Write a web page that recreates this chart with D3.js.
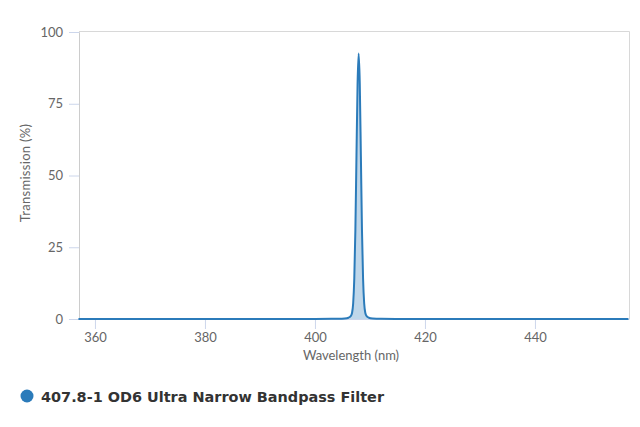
<!DOCTYPE html>
<html>
<head>
<meta charset="utf-8">
<script src="https://cdn.jsdelivr.net/npm/d3@7"></script>
<style>
  body { margin: 0; background: #fff; }
  svg { display: block; }
</style>
</head>
<body>
<script>
// transmission curve
const wavelengths = [357, 380, 395, 400, 403, 404, 405.4, 406.1, 406.5, 406.75, 406.95, 407.15, 407.35, 407.55, 407.75, 407.95,
  408.15, 408.35, 408.55, 408.75, 408.95, 409.15, 409.4, 409.8, 410.5, 412, 415, 420, 440, 457];
const transmission = [0, 0, 0.01, 0.02, 0.05, 0.08, 0.2, 0.45, 1.0, 2.2, 5.5, 14, 31, 57, 82, 92.5,
  82, 57, 31, 14, 5.5, 2.2, 1.0, 0.45, 0.2, 0.08, 0.04, 0.02, 0, 0];
const xTicks = [360, 380, 400, 420, 440];
const yTicks = [0, 25, 50, 75, 100];
const seriesName = "407.8-1 OD6 Ultra Narrow Bandpass Filter";

const data = wavelengths.map((w, i) => ({ x: w, y: transmission[i] }));

const w = 640, h = 427;
const plotL = 79, plotR = 629, plotT = 32, plotB = 319;
const labelFont = "Lato, sans-serif";

const svg = d3.select("body").append("svg").attr("width", w).attr("height", h);

const xScale = d3.scaleLinear().domain([357.1, 457.1]).range([plotL, plotR]);
const yScale = d3.scaleLinear().domain([0, 100]).range([plotB, plotT]);

// plot border (top/right)
svg.append("path")
  .attr("d", `M${plotL},${plotT - 0.5}H${plotR + 0.5}V${plotB}`)
  .attr("fill", "none")
  .attr("stroke", "#d8d8d8")
  .attr("stroke-width", 1);

// area + line
const area = d3.area()
  .x(d => xScale(d.x))
  .y0(yScale(0))
  .y1(d => yScale(d.y))
  .curve(d3.curveMonotoneX);
const line = d3.line()
  .x(d => xScale(d.x))
  .y(d => yScale(d.y))
  .curve(d3.curveMonotoneX);

svg.append("path").datum(data)
  .attr("d", area)
  .attr("fill", "#2b7bba")
  .attr("fill-opacity", 0.3);

// y axis
const yAxis = svg.append("g")
  .attr("transform", `translate(${plotL},0)`)
  .call(d3.axisLeft(yScale).tickValues(yTicks).tickSize(10).tickPadding(6));
yAxis.select(".domain").attr("stroke", "#cccccc");
yAxis.selectAll(".tick line").attr("stroke", "#ccd6eb");
yAxis.selectAll(".tick text")
  .attr("fill", "#666666")
  .attr("font-family", labelFont)
  .attr("font-size", "13px");

// x axis
const xAxis = svg.append("g")
  .attr("transform", `translate(0,${plotB})`)
  .call(d3.axisBottom(xScale).tickValues(xTicks).tickSize(10).tickPadding(4));
xAxis.select(".domain").attr("stroke", "#ccd6eb").attr("d", `M${plotL},0.5H${plotR + 0.5}`);
xAxis.selectAll(".tick line").attr("stroke", "#ccd6eb");
xAxis.selectAll(".tick text")
  .attr("fill", "#666666")
  .attr("font-family", labelFont)
  .attr("font-size", "13px");

svg.append("path").datum(data)
  .attr("d", line)
  .attr("fill", "none")
  .attr("stroke", "#2b7bba")
  .attr("stroke-width", 2);

// axis titles
svg.append("text")
  .attr("x", 351)
  .attr("y", 360)
  .attr("text-anchor", "middle")
  .attr("fill", "#666666")
  .attr("font-family", labelFont)
  .attr("font-size", "13px")
  .text("Wavelength (nm)");

svg.append("text")
  .attr("transform", `translate(30,173) rotate(-90)`)
  .attr("text-anchor", "middle")
  .attr("fill", "#666666")
  .attr("font-family", labelFont)
  .attr("font-size", "13px")
  .attr("letter-spacing", "0.3px")
  .text("Transmission (%)");

// legend
svg.append("circle")
  .attr("cx", 27)
  .attr("cy", 396)
  .attr("r", 6.5)
  .attr("fill", "#2b7bba");
svg.append("text")
  .attr("x", 41)
  .attr("y", 402)
  .attr("fill", "#333333")
  .attr("font-family", "'DejaVu Sans', sans-serif")
  .attr("font-weight", "bold")
  .attr("font-size", "14px")
  .attr("textLength", 343)
  .attr("lengthAdjust", "spacingAndGlyphs")
  .text(seriesName);
</script>
</body>
</html>
